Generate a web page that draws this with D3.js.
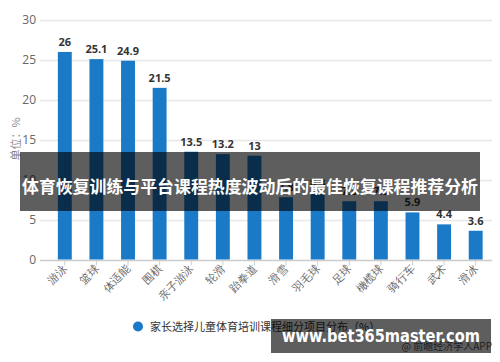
<!DOCTYPE html>
<html>
<head>
<meta charset="utf-8">
<script src="https://cdn.jsdelivr.net/npm/d3@7"></script>
<style>
  html, body { margin: 0; padding: 0; background: #fff; }
  svg { display: block; font-family: "Noto Sans CJK SC", "Noto Sans", sans-serif; }
</style>
</head>
<body>
<div id="chart"></div>
<script>
const categories = ["游泳", "篮球", "体适能", "围棋", "亲子游泳", "轮滑", "跆拳道", "滑雪", "羽毛球", "足球", "橄榄球", "骑行车", "武术", "滑冰"];
const values = [26, 25.1, 24.9, 21.5, 13.5, 13.2, 13, 7.8, 8.3, 7.3, 7.3, 5.9, 4.4, 3.6];
const yTicks = [0, 5, 10, 15, 20, 25, 30];
const seriesName = "家长选择儿童体育培训课程细分项目分布（%）";
const yTitle = "单位：%";
const sourceText = "@ 前瞻经济学人APP";
const bannerText = "体育恢复训练与平台课程热度波动后的最佳恢复课程推荐分析";
const siteText = "www.bet365master.com";

const width = 500, height = 362;
const grid = { left: 40, right: 492 };
const plot = { top: 20, bottom: 259.5 };

const svg = d3.select("#chart").append("svg")
  .attr("width", width)
  .attr("height", height);

// scales
const xScale = d3.scaleBand()
  .domain(categories)
  .range([49, 491.5])
  .paddingInner(0.56)
  .paddingOuter(0.28);
const yScale = d3.scaleLinear()
  .domain([0, 30])
  .range([plot.bottom, plot.top]);

// gridlines
svg.append("g")
  .selectAll("line")
  .data(yTicks.filter(d => d > 0))
  .join("line")
    .attr("x1", grid.left)
    .attr("x2", grid.right)
    .attr("y1", d => Math.round(yScale(d)) + 0.5)
    .attr("y2", d => Math.round(yScale(d)) + 0.5)
    .attr("stroke", "#e8e8e8")
    .attr("stroke-width", 1.5);

// y axis labels
const yAxis = svg.append("g")
  .attr("transform", `translate(${grid.left - 4},0)`)
  .call(d3.axisLeft(yScale).tickValues(yTicks).tickSize(0).tickPadding(0));
yAxis.select(".domain").remove();
yAxis.selectAll("text")
  .attr("fill", "#666")
  .style("font-size", "12px")
  .style("font-family", "'Open Sans', sans-serif");

// y title
svg.append("text")
  .attr("transform", "translate(15,139) rotate(-90)")
  .attr("text-anchor", "middle")
  .attr("dominant-baseline", "central")
  .attr("fill", "#888")
  .style("font-size", "11px")
  .text(yTitle);

// x axis
const xAxis = svg.append("g")
  .attr("transform", `translate(0,${Math.round(plot.bottom) + 0.5})`)
  .call(d3.axisBottom(xScale).tickSize(5).tickPadding(0));
xAxis.select(".domain")
  .attr("d", `M${grid.left},0H${grid.right}`)
  .attr("stroke", "#ccc")
  .attr("stroke-width", 1.5);
xAxis.selectAll(".tick line").attr("stroke", "#ccc");
xAxis.selectAll("text")
  .attr("fill", "#666")
  .attr("text-anchor", "end")
  .attr("dy", null)
  .attr("y", null)
  .attr("transform", "translate(3,9) rotate(-45)")
  .style("font-size", "11px");

// bars
svg.append("g")
  .selectAll("rect")
  .data(values)
  .join("rect")
    .attr("x", (d, i) => xScale(categories[i]))
    .attr("y", d => yScale(d))
    .attr("width", xScale.bandwidth())
    .attr("height", d => plot.bottom - yScale(d))
    .attr("fill", "#1a7ac8");

// value labels
svg.append("g")
  .selectAll("text")
  .data(values)
  .join("text")
    .attr("x", (d, i) => xScale(categories[i]) + xScale.bandwidth() / 2)
    .attr("y", d => yScale(d) - 6)
    .attr("text-anchor", "middle")
    .attr("fill", "#333")
    .style("font-size", "11px")
    .style("font-weight", "bold")
    .style("font-family", "'Open Sans', sans-serif")
    .text(d => d);

// legend
svg.append("circle")
  .attr("cx", 138)
  .attr("cy", 326.5)
  .attr("r", 5)
  .attr("fill", "#1a7ac8");
svg.append("text")
  .attr("x", 150)
  .attr("y", 330.5)
  .attr("fill", "#333")
  .style("font-size", "11px")
  .text(seriesName);

// source
svg.append("text")
  .attr("x", 492)
  .attr("y", 350)
  .attr("text-anchor", "end")
  .attr("fill", "#555")
  .style("font-size", "10px")
  .text(sourceText);

// title banner over the chart
svg.append("rect")
  .attr("x", 20).attr("y", 152)
  .attr("width", 460).attr("height", 59)
  .attr("fill", "rgba(0,0,0,0.63)");
svg.append("text")
  .attr("x", 250)
  .attr("y", 185)
  .attr("text-anchor", "middle")
  .attr("dominant-baseline", "central")
  .attr("fill", "#fff")
  .attr("textLength", 456)
  .attr("lengthAdjust", "spacingAndGlyphs")
  .style("font-size", "17px")
  .style("font-weight", "bold")
  .text(bannerText);

// site stamp
svg.append("rect")
  .attr("x", 271).attr("y", 319)
  .attr("width", 220).attr("height", 34)
  .attr("fill", "rgba(0,0,0,0.63)");
svg.append("text")
  .attr("x", 381)
  .attr("y", 335)
  .attr("text-anchor", "middle")
  .attr("dominant-baseline", "central")
  .attr("fill", "#fff")
  .attr("textLength", 198)
  .attr("lengthAdjust", "spacingAndGlyphs")
  .style("font-size", "18px")
  .style("font-weight", "bold")
  .style("font-family", "'DejaVu Sans', sans-serif")
  .text(siteText);
</script>
</body>
</html>
